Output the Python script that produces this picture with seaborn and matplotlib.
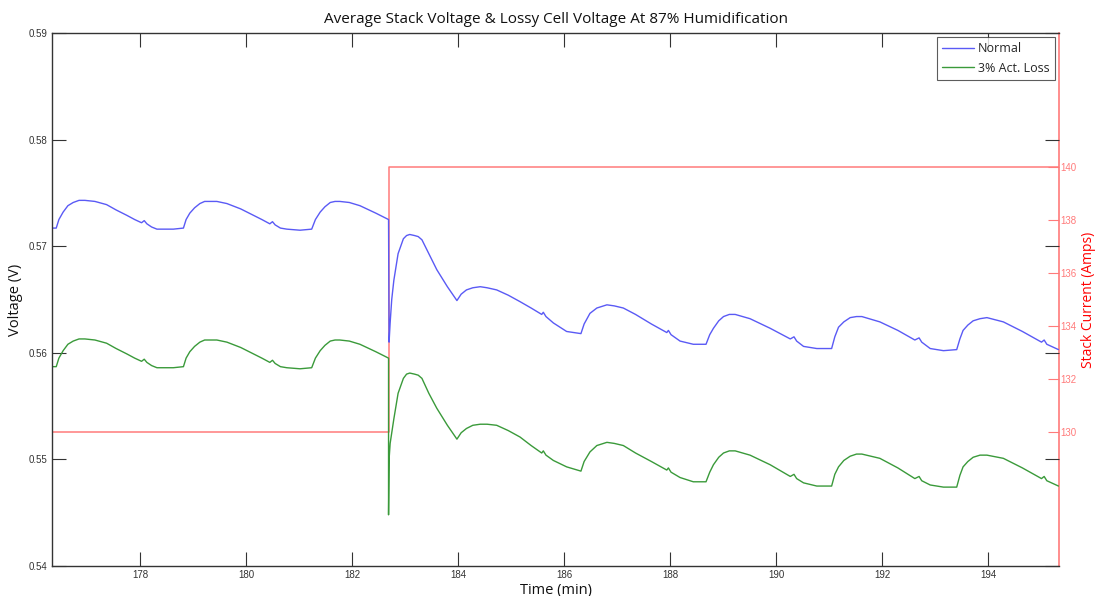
import matplotlib
matplotlib.use("Agg")
import matplotlib.pyplot as plt
import seaborn as sns
import pandas as pd

# ---------------- data ----------------
normal_t = [176.34, 176.42, 176.47, 176.55, 176.64, 176.74, 176.85, 176.96, 177.15, 177.37,
            177.55, 177.75, 177.90, 178.03, 178.08, 178.13, 178.22, 178.32, 178.63, 178.82,
            178.87, 178.94, 179.03, 179.13, 179.22, 179.32, 179.45, 179.64, 179.90, 180.14,
            180.30, 180.45, 180.50, 180.55, 180.65, 180.77, 181.02, 181.24, 181.31, 181.40,
            181.49, 181.59, 181.68, 181.77, 181.95, 182.15, 182.45, 182.69,
            182.70, 182.72, 182.75, 182.79, 182.87, 182.97, 183.03, 183.09, 183.18, 183.25,
            183.32, 183.45, 183.60, 183.80, 183.98, 184.06, 184.16, 184.28, 184.42, 184.55,
            184.73, 184.95, 185.17, 185.38, 185.58, 185.61, 185.66, 185.80, 186.05, 186.32,
            186.38, 186.49, 186.62, 186.81, 186.95, 187.12, 187.35, 187.65, 187.94, 187.97,
            188.02, 188.19, 188.44, 188.68, 188.75, 188.82, 188.92, 189.01, 189.12, 189.23,
            189.51, 189.89, 190.27, 190.34, 190.39, 190.52, 190.77, 191.05, 191.11, 191.18,
            191.28, 191.40, 191.52, 191.62, 191.96, 192.30, 192.62, 192.70, 192.75, 192.91,
            193.16, 193.41, 193.47, 193.53, 193.62, 193.72, 193.85, 193.98, 194.29, 194.65,
            195.01, 195.06, 195.11, 195.33]
normal_v = [0.5717, 0.5717, 0.5725, 0.5732, 0.5738, 0.5741, 0.5743, 0.5743, 0.5742, 0.5739,
            0.5734, 0.5729, 0.5725, 0.5722, 0.5724, 0.5721, 0.5718, 0.5716, 0.5716, 0.5717,
            0.5725, 0.5731, 0.5736, 0.5740, 0.5742, 0.5742, 0.5742, 0.5740, 0.5735, 0.5729,
            0.5725, 0.5721, 0.5723, 0.5720, 0.5717, 0.5716, 0.5715, 0.5716, 0.5725, 0.5732,
            0.5737, 0.5741, 0.5742, 0.5742, 0.5741, 0.5738, 0.5731, 0.5725,
            0.5610, 0.5628, 0.5650, 0.5668, 0.5693, 0.5707, 0.5710, 0.5711, 0.5710, 0.5709,
            0.5706, 0.5693, 0.5678, 0.5662, 0.5649, 0.5655, 0.5659, 0.5661, 0.5662, 0.5661,
            0.5659, 0.5654, 0.5648, 0.5642, 0.5636, 0.5638, 0.5634, 0.5628, 0.5620, 0.5618,
            0.5627, 0.5637, 0.5642, 0.5645, 0.5644, 0.5642, 0.5636, 0.5627, 0.5619, 0.5621,
            0.5617, 0.5611, 0.5608, 0.5608, 0.5617, 0.5623, 0.5630, 0.5634, 0.5636, 0.5636,
            0.5632, 0.5623, 0.5613, 0.5615, 0.5611, 0.5606, 0.5604, 0.5604, 0.5615, 0.5624,
            0.5629, 0.5633, 0.5634, 0.5634, 0.5629, 0.5621, 0.5612, 0.5614, 0.5610, 0.5604,
            0.5602, 0.5603, 0.5613, 0.5621, 0.5626, 0.5630, 0.5632, 0.5633, 0.5629, 0.5620,
            0.5610, 0.5612, 0.5608, 0.5603]

loss_t = [176.34, 176.42, 176.47, 176.55, 176.64, 176.74, 176.85, 176.96, 177.15, 177.37,
          177.55, 177.75, 177.90, 178.03, 178.08, 178.13, 178.22, 178.32, 178.63, 178.82,
          178.87, 178.94, 179.03, 179.13, 179.22, 179.32, 179.45, 179.64, 179.90, 180.14,
          180.30, 180.45, 180.50, 180.55, 180.65, 180.77, 181.02, 181.24, 181.31, 181.40,
          181.49, 181.59, 181.68, 181.77, 181.95, 182.15, 182.45, 182.69,
          182.69, 182.70, 182.72, 182.75, 182.79, 182.87, 182.97, 183.03, 183.09, 183.18,
          183.25, 183.32, 183.45, 183.60, 183.80, 183.98, 184.06, 184.16, 184.28, 184.42,
          184.55, 184.73, 184.95, 185.17, 185.38, 185.58, 185.61, 185.66, 185.80, 186.05,
          186.32, 186.38, 186.49, 186.62, 186.81, 186.95, 187.12, 187.35, 187.65, 187.94,
          187.97, 188.02, 188.19, 188.44, 188.68, 188.75, 188.82, 188.92, 189.01, 189.12,
          189.23, 189.51, 189.89, 190.27, 190.34, 190.39, 190.52, 190.77, 191.05, 191.11,
          191.18, 191.28, 191.40, 191.52, 191.62, 191.96, 192.30, 192.62, 192.70, 192.75,
          192.91, 193.16, 193.41, 193.47, 193.53, 193.62, 193.72, 193.85, 193.98, 194.29,
          194.65, 195.01, 195.06, 195.11, 195.33]
loss_v = [0.5587, 0.5587, 0.5595, 0.5602, 0.5608, 0.5611, 0.5613, 0.5613, 0.5612, 0.5609,
          0.5604, 0.5599, 0.5595, 0.5592, 0.5594, 0.5591, 0.5588, 0.5586, 0.5586, 0.5587,
          0.5595, 0.5601, 0.5606, 0.5610, 0.5612, 0.5612, 0.5612, 0.5610, 0.5605, 0.5599,
          0.5595, 0.5591, 0.5593, 0.5590, 0.5587, 0.5586, 0.5585, 0.5586, 0.5595, 0.5602,
          0.5607, 0.5611, 0.5612, 0.5612, 0.5611, 0.5608, 0.5601, 0.5595,
          0.5448, 0.5500, 0.5515, 0.5525, 0.5538, 0.5562, 0.5576, 0.5580, 0.5581, 0.5580,
          0.5579, 0.5576, 0.5562, 0.5548, 0.5532, 0.5519, 0.5525, 0.5529, 0.5532, 0.5533,
          0.5533, 0.5532, 0.5527, 0.5521, 0.5513, 0.5506, 0.5508, 0.5504, 0.5499, 0.5493,
          0.5489, 0.5498, 0.5507, 0.5513, 0.5516, 0.5515, 0.5513, 0.5506, 0.5498, 0.5490,
          0.5492, 0.5488, 0.5483, 0.5479, 0.5479, 0.5488, 0.5495, 0.5502, 0.5506, 0.5508,
          0.5508, 0.5504, 0.5495, 0.5484, 0.5486, 0.5482, 0.5478, 0.5475, 0.5475, 0.5486,
          0.5493, 0.5499, 0.5503, 0.5505, 0.5505, 0.5501, 0.5492, 0.5482, 0.5484, 0.5480,
          0.5476, 0.5474, 0.5474, 0.5485, 0.5493, 0.5498, 0.5502, 0.5504, 0.5504, 0.5501,
          0.5492, 0.5482, 0.5484, 0.5480, 0.5475]

current_t = [176.34, 182.69, 182.69, 195.34]
current_a = [130, 130, 140, 140]

x_ticks = [178, 180, 182, 184, 186, 188, 190, 192, 194]
v_ticks = [0.54, 0.55, 0.56, 0.57, 0.58, 0.59]
a_ticks = [130, 132, 134, 136, 138, 140]

# ---------------- plot ----------------
sns.set_theme(style="white")
plt.rcParams['font.family'] = ['Open Sans', 'DejaVu Sans']

BLUE = "#5a5af5"
GREEN = "#3a9a3a"
RED = "#ff7a7a"

fig = plt.figure(figsize=(10.96, 5.96), dpi=100)
ax = fig.add_axes([52/1096, 1-566/596, (1059-52)/1096, (566-33)/596])
ax2 = ax.twinx()

df_n = pd.DataFrame({"t": normal_t, "v": normal_v})
df_l = pd.DataFrame({"t": loss_t, "v": loss_v})
df_c = pd.DataFrame({"t": current_t, "a": current_a})

sns.lineplot(data=df_c, x="t", y="a", ax=ax2, color=RED, lw=1.1,
             estimator=None, sort=False, legend=False)
sns.lineplot(data=df_n, x="t", y="v", ax=ax, color=BLUE, lw=1.0,
             estimator=None, sort=False, label="Normal")
sns.lineplot(data=df_l, x="t", y="v", ax=ax, color=GREEN, lw=1.0,
             estimator=None, sort=False, label="3% Act. Loss")

ax.set_zorder(ax2.get_zorder() + 1)
ax.patch.set_visible(False)

ax.set_xlim(176.34, 195.34)
ax.set_ylim(0.54, 0.59)
ax2.set_ylim(124.94, 145.06)

ax.set_xticks(x_ticks)
ax.set_xticklabels([str(v) for v in x_ticks])
ax.set_yticks(v_ticks)
ax.set_yticklabels([f"{v:.2f}" for v in v_ticks])
ax2.set_yticks(a_ticks)
ax2.set_yticklabels([str(v) for v in a_ticks])

for lab in ax.get_xticklabels() + ax.get_yticklabels():
    lab.set_fontfamily("Liberation Sans"); lab.set_fontsize(7); lab.set_color("#333333")
for lab in ax2.get_yticklabels():
    lab.set_fontfamily("Liberation Sans"); lab.set_fontsize(7); lab.set_color(RED)

ax.tick_params(axis="both", direction="in", length=10, width=0.8, color="#333333",
               top=True, right=True, bottom=True, left=True, pad=3)
ax2.tick_params(axis="y", direction="in", length=8, width=0.8, color=RED, pad=1)

for s in ["left", "top", "bottom"]:
    ax.spines[s].set_color("#333333")
    ax.spines[s].set_linewidth(1.0)
ax.spines["right"].set_visible(False)
for s in ["left", "top", "bottom"]:
    ax2.spines[s].set_visible(False)
ax2.spines["right"].set_color(RED)
ax2.spines["right"].set_linewidth(1.2)

ax.set_xlabel("Time (min)", fontsize=10.5, labelpad=2, color="#111111")
ax.set_ylabel("Voltage (V)", fontsize=10.5, labelpad=4, color="#111111")
ax2.set_ylabel("Stack Current (Amps)", fontsize=10, color="red", labelpad=3)
ax.set_title("Average Stack Voltage & Lossy Cell Voltage At 87% Humidification",
             fontsize=11, pad=7, color="#111111")

leg = ax.legend(loc="upper right", fontsize=9, frameon=True, fancybox=False,
                borderpad=0.4, handlelength=2.6, handletextpad=0.3,
                labelspacing=0.5, borderaxespad=0.35)
leg.get_frame().set_edgecolor("#333333")
leg.get_frame().set_linewidth(0.8)

fig.savefig("out.png", dpi=100)
